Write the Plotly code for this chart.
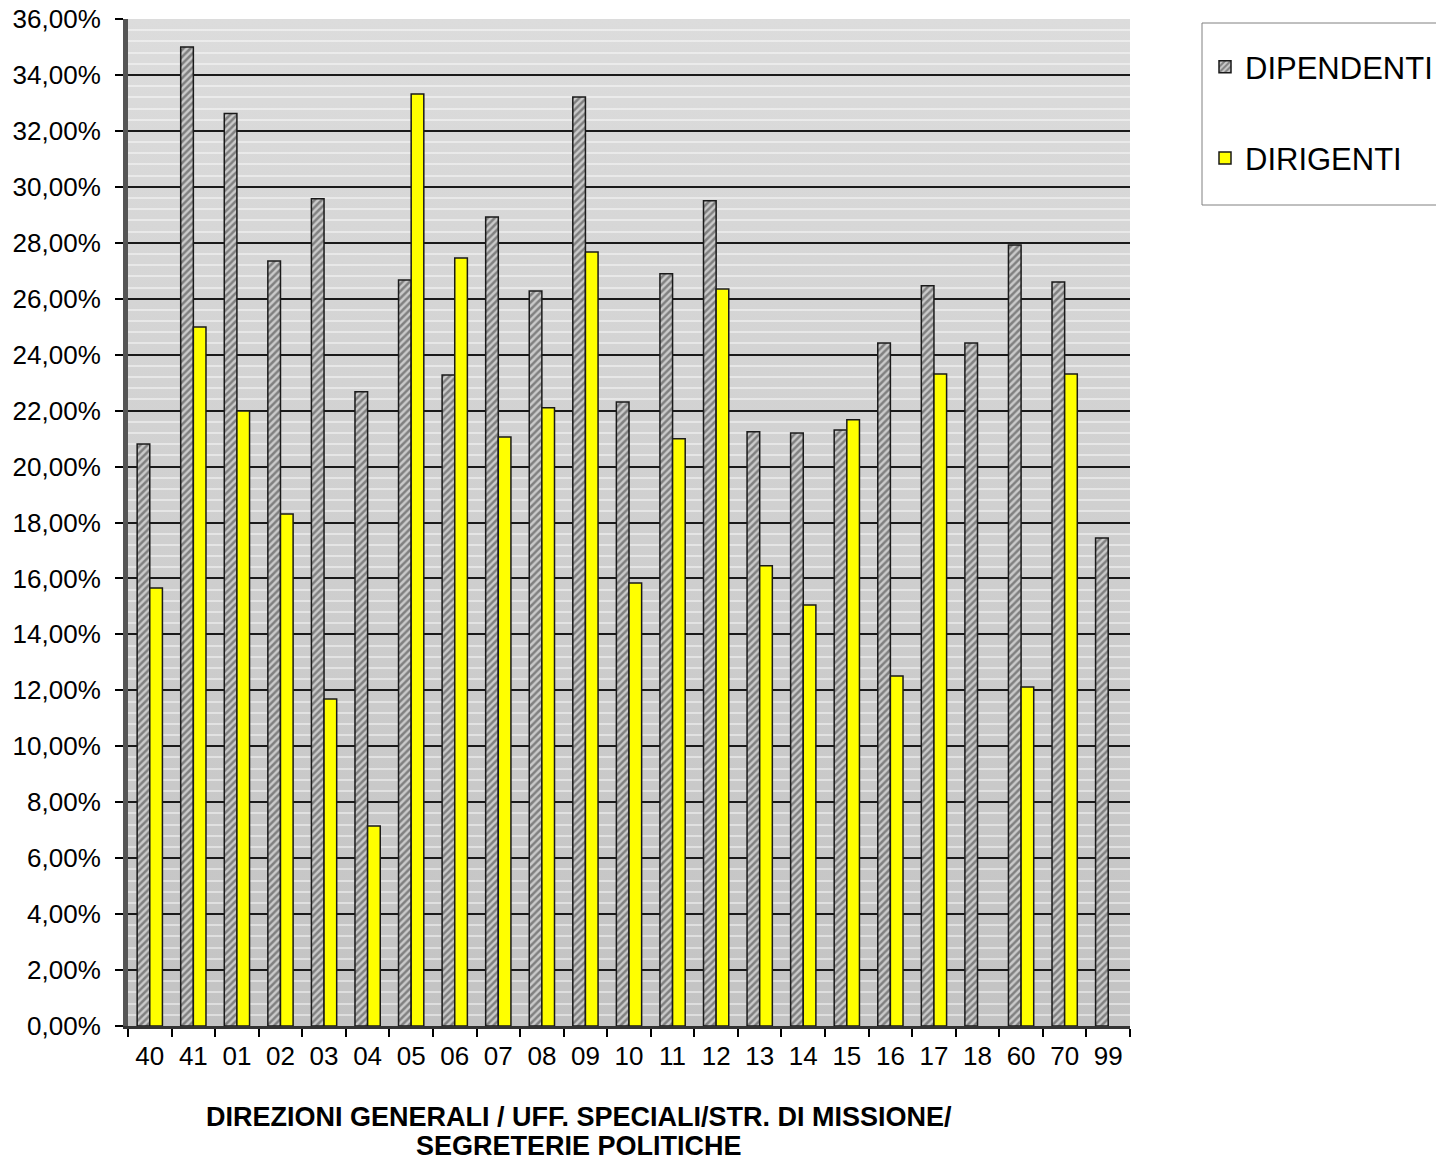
import base64
import plotly.graph_objects as go

categories = ["40", "41", "01", "02", "03", "04", "05", "06", "07", "08", "09", "10",
              "11", "12", "13", "14", "15", "16", "17", "18", "60", "70", "99"]
dipendenti = [20.81, 35.00, 32.62, 27.35, 29.57, 22.67, 26.67, 23.27, 28.92, 26.28, 33.21, 22.31,
              26.89, 29.50, 21.24, 21.20, 21.31, 24.42, 26.46, 24.42, 27.92, 26.60, 17.45]
dirigenti = [15.66, 24.99, 21.99, 18.30, 11.69, 7.15, 33.32, 27.46, 21.06, 22.10, 27.67, 15.84,
             20.99, 26.35, 16.45, 15.05, 21.67, 12.51, 23.31, None, 12.12, 23.31, None]
y_ticks = [0, 2, 4, 6, 8, 10, 12, 14, 16, 18, 20, 22, 24, 26, 28, 30, 32, 34, 36]
y_ticktext = [f"{v:.2f}".replace(".", ",") + "%" for v in y_ticks]

FONT = "Liberation Sans, Arial, sans-serif"

W, H = 1444, 1162
OFF = 8  # page body margin: figure appears shifted by this in the screenshot
# plot-area geometry in screen pixels
SL, SR, ST, SB = 128, 1130, 19, 1026
L, R, T, B = SL - OFF, SR - OFF, ST - OFF, SB - OFF
PW, PH = R - L, B - T


def px(xs):
    return (xs - OFF - L) / PW


def py(ys):
    return (B - (ys - OFF)) / PH


svg = ('<svg xmlns="http://www.w3.org/2000/svg" width="100" height="100" preserveAspectRatio="none">'
       '<defs><linearGradient id="g" x1="0" y1="0" x2="0" y2="1">'
       '<stop offset="0" stop-color="#dcdcdc"/><stop offset="1" stop-color="#c3c3c3"/>'
       '</linearGradient></defs><rect width="100" height="100" fill="url(#g)"/></svg>')
bg_uri = "data:image/svg+xml;base64," + base64.b64encode(svg.encode()).decode()

fig = go.Figure()
fig.add_trace(go.Bar(
    x=categories, y=dipendenti, name="DIPENDENTI",
    marker=dict(color="#bdbdbd",
                line=dict(color="#1a1a1a", width=1.5),
                pattern=dict(shape="/", fgcolor="#363636", bgcolor="#cacaca",
                             size=5, solidity=0.5)),
    legendgroup="a",
))
fig.add_trace(go.Bar(
    x=categories, y=dirigenti, name="DIRIGENTI",
    marker=dict(color="#ffff00", line=dict(color="#1a1a1a", width=1.5)),
    legendgroup="b",
))

fig.update_layout(
    width=W, height=H,
    margin=dict(l=L, r=W - R, t=T, b=H - B, autoexpand=False),
    paper_bgcolor="white",
    plot_bgcolor="rgba(0,0,0,0)",
    barmode="group",
    bargap=0.42,
    bargroupgap=0.0,
    font=dict(family=FONT, size=26, color="black"),
    showlegend=True,
    legend=dict(
        x=px(1205), y=py(40), xanchor="left", yanchor="top",
        borderwidth=0, bgcolor="rgba(0,0,0,0)",
        font=dict(family=FONT, size=31, color="black"),
        traceorder="grouped", tracegroupgap=48,
    ),
    images=[dict(source=bg_uri, xref="paper", yref="paper", x=0, y=1,
                 sizex=1, sizey=1, sizing="stretch", layer="below")],
    shapes=[dict(type="rect", xref="paper", yref="paper",
                 x0=px(1202), x1=px(1452), y0=py(205), y1=py(23),
                 line=dict(color="#808080", width=1), fillcolor="rgba(0,0,0,0)",
                 layer="below")],
    annotations=[
        dict(text="DIREZIONI GENERALI / UFF. SPECIALI/STR. DI MISSIONE/",
             xref="paper", yref="paper", x=px(579), y=py(1117),
             xanchor="center", yanchor="middle", showarrow=False,
             font=dict(family=FONT, size=27, color="black", weight="bold")),
        dict(text="SEGRETERIE POLITICHE",
             xref="paper", yref="paper", x=px(579), y=py(1146),
             xanchor="center", yanchor="middle", showarrow=False,
             font=dict(family=FONT, size=27, color="black", weight="bold")),
    ],
)

fig.update_yaxes(
    range=[0, 36], tickvals=y_ticks, ticktext=y_ticktext, automargin=False,
    ticklabeloverflow="allow", ticklabelstandoff=9,
    ticks="outside", ticklen=8, tickcolor="black", tickwidth=1.5,
    showgrid=True, gridcolor="#1a1a1a", gridwidth=1.5,
    minor=dict(dtick=0.4, showgrid=True, gridcolor="rgba(255,255,255,0.45)", gridwidth=2),
    showline=True, linecolor="#555555", linewidth=5,
    zeroline=False,
    tickfont=dict(family=FONT, size=26),
)
fig.update_xaxes(
    type="category", tickson="boundaries", automargin=False,
    ticklabelstandoff=5,
    ticks="outside", ticklen=8, tickcolor="black", tickwidth=1.5,
    showline=True, linecolor="#333333", linewidth=3,
    showgrid=False,
    tickfont=dict(family=FONT, size=26),
)

fig.write_html("out.html")
